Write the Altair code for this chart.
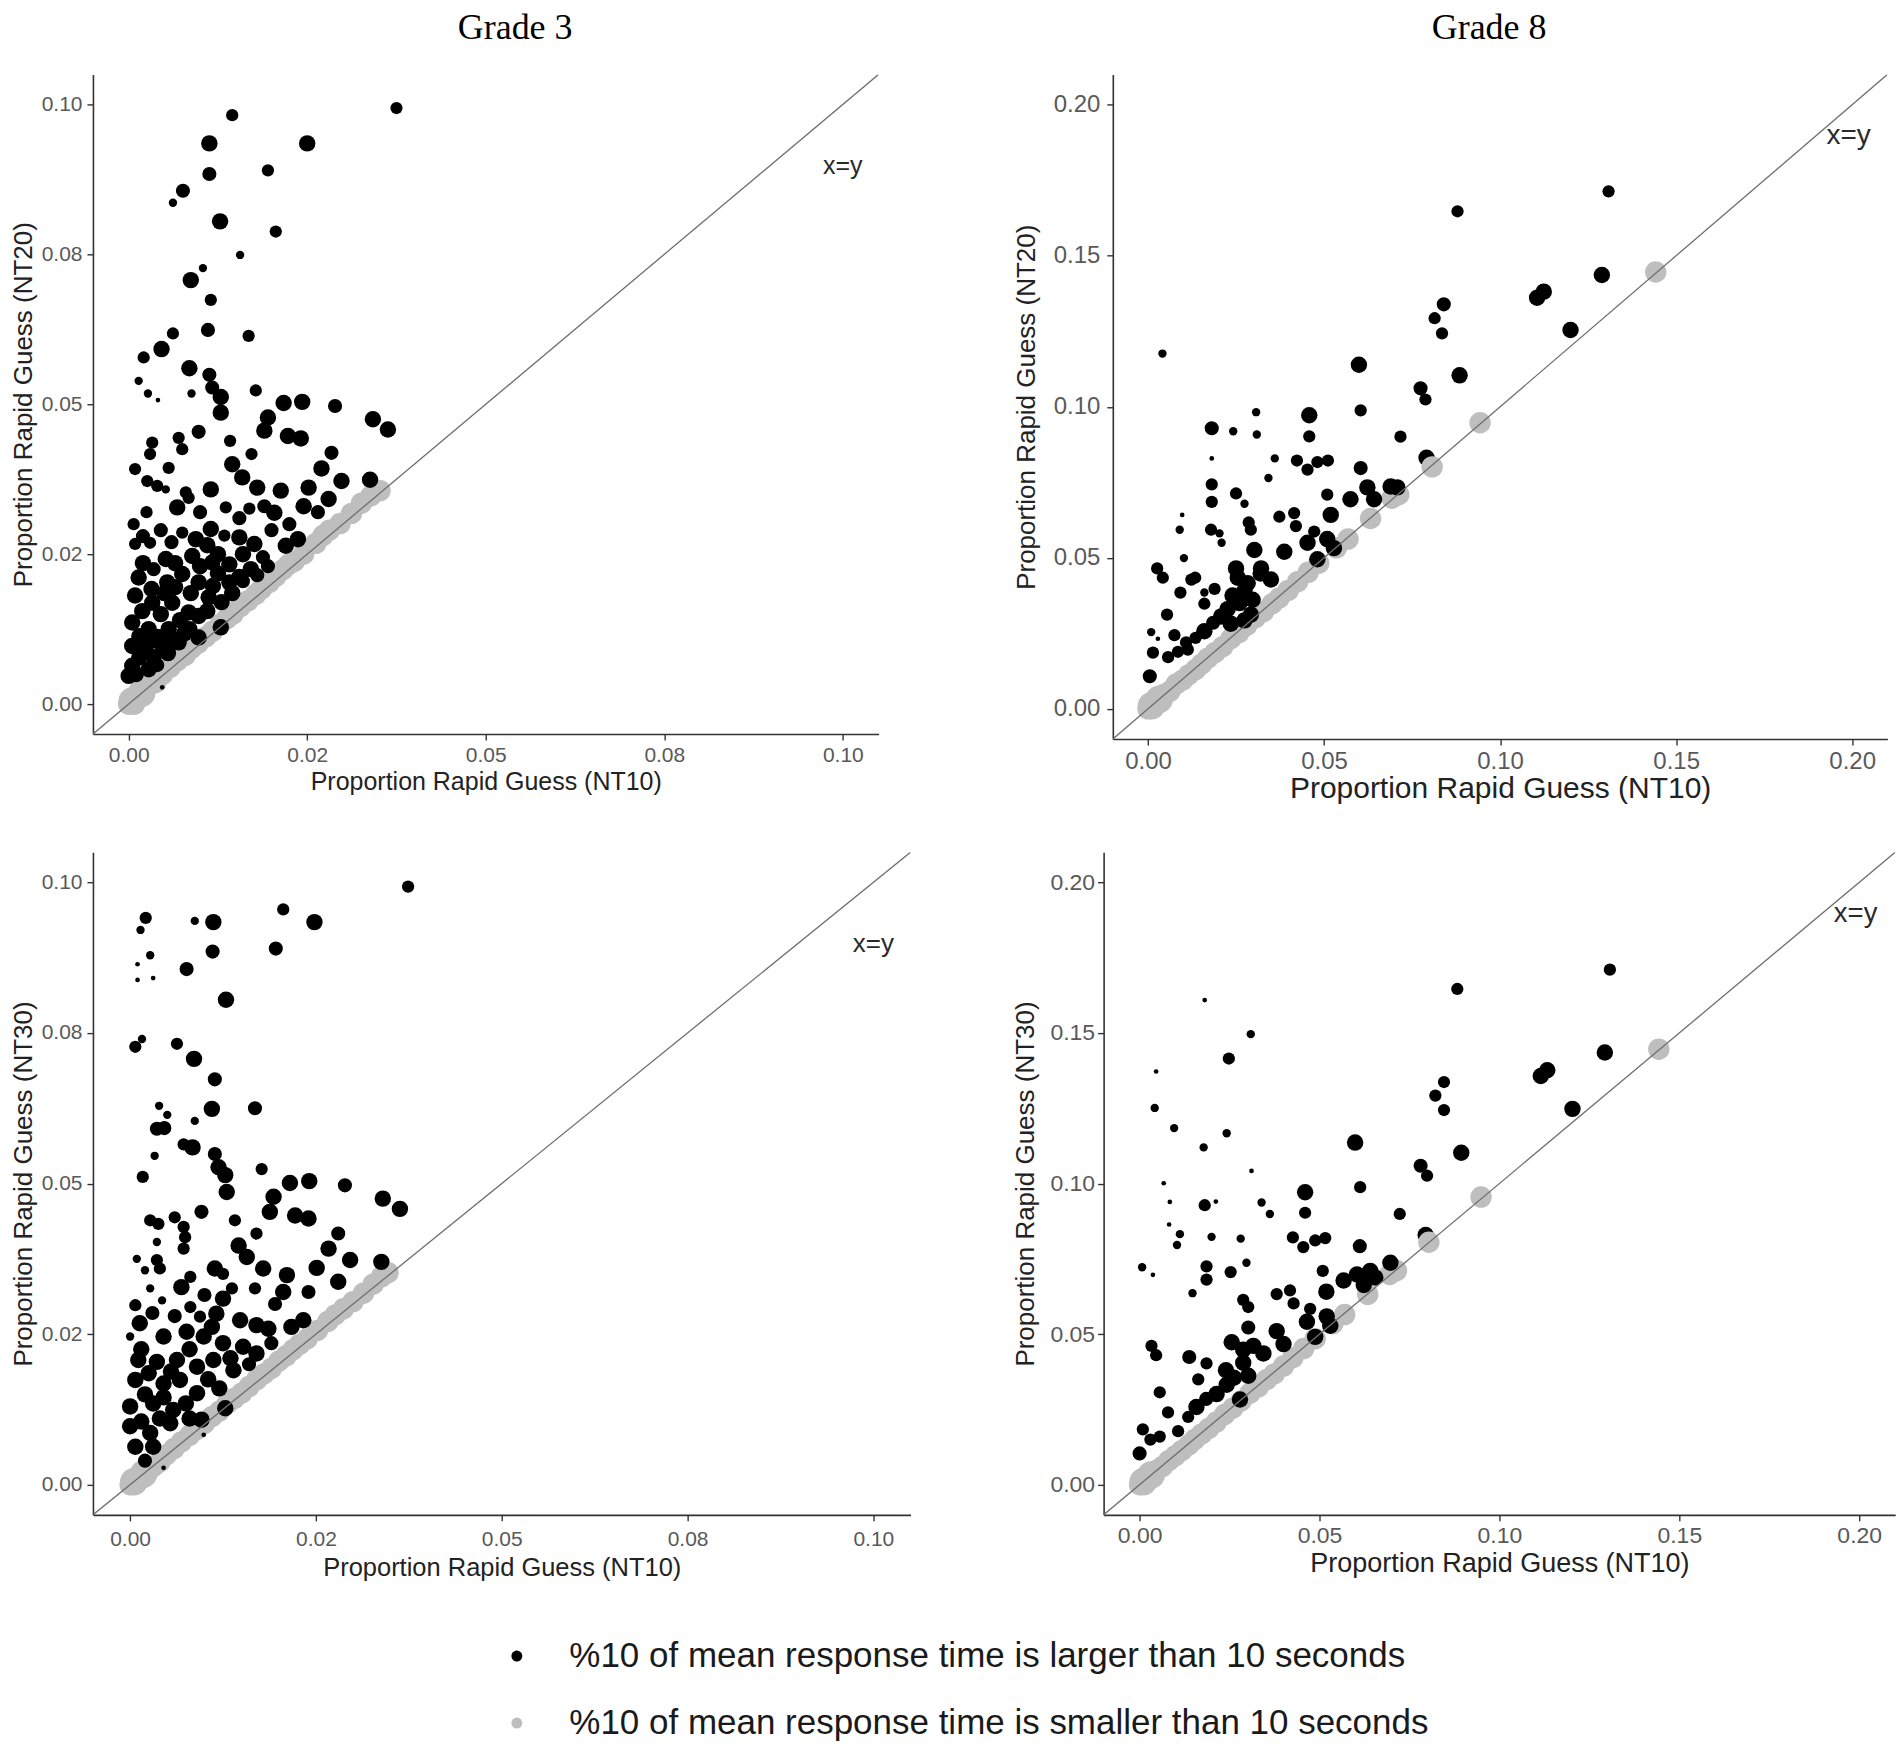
import altair as alt
import pandas as pd

# ---------------- labels / ticks ----------------
LAB_BLACK = "%10 of mean response time is larger than 10 seconds"
LAB_GRAY = "%10 of mean response time is smaller than 10 seconds"
group_labels = [LAB_BLACK, LAB_GRAY]
group_colors = ["#000000", "#bebebe"]

panel_titles = ["Grade 3", "Grade 8"]
x_title = "Proportion Rapid Guess (NT10)"
y_titles = ["Proportion Rapid Guess (NT20)", "Proportion Rapid Guess (NT30)"]

g3_limits = [0.0, 0.10]
g8_limits = [0.0, 0.20]
g3_ticks = [0.0, 0.025, 0.05, 0.075, 0.10]
g3_tick_labels = ["0.00", "0.02", "0.05", "0.08", "0.10"]
g8_ticks = [0.0, 0.05, 0.10, 0.15, 0.20]
g8_tick_labels = ["0.00", "0.05", "0.10", "0.15", "0.20"]

xy_label = "x=y"
g3_xy_pos = [0.100, 0.0898]
g8_xy_pos = [0.199, 0.1895]

# ---------------- data: (NT10, NTxx, size class) ----------------
# size class: 1 tiny ... 5 large (black points); gray points class 6, big gray class 7
g3_nt20_black = [
    (0.0375, 0.0994, 3), (0.0145, 0.0982, 3), (0.0113, 0.0935, 5), (0.0250, 0.0935, 5),
    (0.0113, 0.0884, 4), (0.0195, 0.0890, 3), (0.0076, 0.0856, 4), (0.0062, 0.0836, 2),
    (0.0128, 0.0805, 5), (0.0206, 0.0788, 3), (0.0156, 0.0749, 2), (0.0104, 0.0727, 2),
    (0.0087, 0.0707, 5), (0.0115, 0.0674, 3), (0.0111, 0.0624, 4), (0.0168, 0.0614, 3),
    (0.0062, 0.0618, 3), (0.0046, 0.0592, 5), (0.0021, 0.0578, 3), (0.0085, 0.0560, 5),
    (0.0113, 0.0549, 4), (0.0014, 0.0539, 2), (0.0027, 0.0518, 2), (0.0041, 0.0507, 1),
    (0.0088, 0.0518, 2), (0.0117, 0.0528, 4), (0.0129, 0.0512, 5), (0.0178, 0.0523, 3),
    (0.0217, 0.0502, 5), (0.0243, 0.0504, 5), (0.0289, 0.0497, 4), (0.0129, 0.0486, 5),
    (0.0195, 0.0478, 5), (0.0342, 0.0475, 5), (0.0363, 0.0458, 5),
    (0.0190, 0.0456, 5), (0.0223, 0.0447, 5), (0.0241, 0.0443, 5), (0.0284, 0.0419, 4),
    (0.0270, 0.0393, 5), (0.0298, 0.0372, 5), (0.0338, 0.0374, 5), (0.0280, 0.0342, 5),
    (0.0252, 0.0361, 5), (0.0098, 0.0454, 4), (0.0142, 0.0439, 3), (0.0172, 0.0417, 3),
    (0.0145, 0.0400, 5), (0.0159, 0.0378, 5), (0.0180, 0.0361, 5), (0.0033, 0.0436, 3),
    (0.0030, 0.0417, 3), (0.0070, 0.0444, 3), (0.0075, 0.0425, 3), (0.0056, 0.0394, 3),
    (0.0009, 0.0392, 3), (0.0026, 0.0372, 3), (0.0040, 0.0364, 3), (0.0052, 0.0358, 2),
    (0.0080, 0.0353, 3), (0.0068, 0.0328, 5), (0.0084, 0.0344, 3), (0.0115, 0.0358, 5),
    (0.0136, 0.0328, 3), (0.0169, 0.0326, 3), (0.0213, 0.0356, 5), (0.0204, 0.0319, 5),
    (0.0007, 0.0300, 3), (0.0009, 0.0267, 3), (0.0030, 0.0269, 3), (0.0075, 0.0286, 3),
    (0.0094, 0.0275, 5), (0.0115, 0.0292, 5), (0.0134, 0.0281, 3), (0.0155, 0.0278, 5),
    (0.0176, 0.0267, 5), (0.0220, 0.0264, 5), (0.0237, 0.0275, 5), (0.0052, 0.0242, 5),
    (0.0089, 0.0247, 5), (0.0117, 0.0236, 5), (0.0141, 0.0233, 5), (0.0171, 0.0225, 5),
    (0.0014, 0.0211, 5), (0.0054, 0.0203, 5), (0.0075, 0.0217, 5), (0.0098, 0.0203, 5),
    (0.0141, 0.0203, 5), (0.0009, 0.0181, 5), (0.0033, 0.0169, 5), (0.0061, 0.0169, 5),
    (0.0084, 0.0153, 5), (0.0098, 0.0147, 5), (0.0005, 0.0136, 5), (0.0028, 0.0125, 5),
    (0.0056, 0.0125, 5), (0.0005, 0.0097, 5), (0.0023, 0.0092, 5), (0.0047, 0.0097, 5),
    (0.0070, 0.0103, 5), (0.0005, 0.0064, 5), (0.0028, 0.0058, 5), (0.0000, 0.0047, 5),
    (0.0032, 0.0192, 5), (0.0019, 0.0155, 5), (0.0045, 0.0150, 5), (0.0072, 0.0140, 5),
    (0.0040, 0.0112, 5), (0.0015, 0.0113, 5), (0.0035, 0.0078, 5), (0.0015, 0.0078, 5),
    (0.0055, 0.0085, 5), (0.0078, 0.0118, 5), (0.0087, 0.0185, 5), (0.0112, 0.0178, 5),
    (0.0118, 0.0197, 5), (0.0125, 0.0218, 5), (0.0155, 0.0212, 5), (0.0160, 0.0205, 4),
    (0.0188, 0.0245, 4), (0.0125, 0.0250, 5), (0.0110, 0.0265, 5), (0.0035, 0.0225, 4),
    (0.0065, 0.0235, 5), (0.0020, 0.0280, 4), (0.0045, 0.0290, 4), (0.0060, 0.0270, 4),
    (0.0025, 0.0320, 3), (0.0100, 0.0320, 4), (0.0050, 0.0185, 5), (0.0020, 0.0235, 5),
    (0.0100, 0.0230, 5), (0.0130, 0.0170, 5), (0.0145, 0.0185, 5), (0.0110, 0.0155, 5),
    (0.0065, 0.0195, 5), (0.0030, 0.0105, 5), (0.0060, 0.0110, 5), (0.0085, 0.0125, 5),
    (0.0010, 0.0050, 5), (0.0040, 0.0065, 4), (0.0180, 0.0215, 4), (0.0195, 0.0230, 4),
    (0.0160, 0.0250, 5), (0.0200, 0.0290, 4), (0.0225, 0.0300, 4), (0.0245, 0.0330, 5),
    (0.0190, 0.0330, 4), (0.0155, 0.0310, 4), (0.0265, 0.0320, 4),
    (0.0129, 0.0128, 5), (0.0098, 0.0111, 5), (0.0047, 0.0028, 1),
]
g3_nt20_gray_big = [(0.0005, 0.0005), (0.0018, 0.0018)]
g3_nt20_gray = [
    (0.0000, 0.0000), (0.0008, 0.0000), (0.0015, 0.0012), (0.0022, 0.0018), (0.0030, 0.0032),
    (0.0038, 0.0036), (0.0047, 0.0049), (0.0058, 0.0061), (0.0068, 0.0072), (0.0079, 0.0081),
    (0.0088, 0.0093), (0.0097, 0.0101), (0.0108, 0.0112), (0.0117, 0.0121), (0.0128, 0.0133),
    (0.0137, 0.0142), (0.0146, 0.0150), (0.0156, 0.0162), (0.0167, 0.0172), (0.0178, 0.0183),
    (0.0186, 0.0192), (0.0197, 0.0203), (0.0206, 0.0213), (0.0216, 0.0224), (0.0224, 0.0233),
    (0.0232, 0.0238), (0.0245, 0.0250), (0.0262, 0.0268), (0.0272, 0.0281), (0.0281, 0.0290),
    (0.0296, 0.0301), (0.0312, 0.0318), (0.0326, 0.0335), (0.0339, 0.0347), (0.0352, 0.0356),
]
g3_nt20_gray_top = []

g8_nt20_black = [
    (0.0879, 0.1647, 3), (0.0840, 0.1339, 4), (0.0814, 0.1293, 3), (0.0835, 0.1243, 3),
    (0.0041, 0.1176, 2), (0.0599, 0.1139, 5), (0.0885, 0.1104, 5), (0.0774, 0.1061, 4),
    (0.0788, 0.1024, 3), (0.0307, 0.0982, 2), (0.0458, 0.0972, 5), (0.0604, 0.0988, 3),
    (0.0181, 0.0929, 4), (0.0242, 0.0919, 2), (0.0309, 0.0908, 2), (0.0458, 0.0902, 3),
    (0.0717, 0.0901, 3), (0.0181, 0.0829, 1), (0.0360, 0.0829, 2), (0.0423, 0.0822, 3),
    (0.0453, 0.0792, 3), (0.0481, 0.0817, 3), (0.0511, 0.0822, 3), (0.0604, 0.0797, 4),
    (0.0791, 0.0831, 5), (0.0342, 0.0764, 2), (0.0181, 0.0743, 3), (0.0181, 0.0685, 3),
    (0.0250, 0.0713, 3), (0.0274, 0.0679, 2), (0.0509, 0.0709, 3), (0.0575, 0.0694, 5),
    (0.0623, 0.0733, 5), (0.0642, 0.0694, 5), (0.0689, 0.0736, 5), (0.0708, 0.0733, 5),
    (0.0097, 0.0642, 1), (0.0090, 0.0593, 2), (0.0179, 0.0593, 3), (0.0203, 0.0581, 2),
    (0.0209, 0.0550, 2), (0.0286, 0.0617, 3), (0.0292, 0.0593, 3), (0.0373, 0.0636, 3),
    (0.0415, 0.0648, 3), (0.0420, 0.0605, 3), (0.0472, 0.0587, 3), (0.0519, 0.0642, 5),
    (0.0453, 0.0550, 5), (0.0509, 0.0562, 5), (0.0528, 0.0532, 5), (0.0481, 0.0495, 5),
    (0.0302, 0.0526, 5), (0.0387, 0.0520, 5), (0.0102, 0.0499, 2), (0.0026, 0.0465, 3),
    (0.0042, 0.0434, 3), (0.0123, 0.0428, 3), (0.0134, 0.0434, 3), (0.0189, 0.0397, 3),
    (0.0092, 0.0385, 3), (0.0160, 0.0385, 2), (0.0250, 0.0465, 5), (0.0255, 0.0434, 5),
    (0.0283, 0.0416, 5), (0.0321, 0.0465, 5), (0.0349, 0.0428, 5), (0.0274, 0.0391, 5),
    (0.0297, 0.0361, 5), (0.0160, 0.0348, 3), (0.0054, 0.0312, 3), (0.0226, 0.0330, 5),
    (0.0208, 0.0306, 5), (0.0274, 0.0293, 5), (0.0292, 0.0312, 5), (0.0160, 0.0257, 5),
    (0.0009, 0.0254, 2), (0.0075, 0.0244, 3), (0.0108, 0.0220, 3), (0.0028, 0.0232, 1),
    (0.0014, 0.0186, 3), (0.0057, 0.0171, 3), (0.0085, 0.0189, 3), (0.0113, 0.0196, 3),
    (0.0005, 0.0108, 4), (0.0240, 0.0375, 5), (0.0260, 0.0350, 5), (0.0235, 0.0282, 5),
    (0.0185, 0.0285, 4), (0.0135, 0.0235, 3), (0.0320, 0.0448, 5),
    (0.1308, 0.1713, 3), (0.1289, 0.1436, 5), (0.1105, 0.1361, 5), (0.1124, 0.1381, 5),
    (0.1200, 0.1254, 5),
]
g8_nt20_gray_big = [(0.0010, 0.0010), (0.0032, 0.0032)]
g8_nt20_gray = [
    (0.0000, 0.0000), (0.0015, 0.0005), (0.0010, 0.0020), (0.0030, 0.0025), (0.0045, 0.0048),
    (0.0062, 0.0058), (0.0080, 0.0082), (0.0098, 0.0095), (0.0115, 0.0112), (0.0135, 0.0130),
    (0.0152, 0.0148), (0.0170, 0.0168), (0.0190, 0.0186), (0.0212, 0.0206), (0.0235, 0.0232),
    (0.0258, 0.0252), (0.0280, 0.0276), (0.0305, 0.0302), (0.0328, 0.0322), (0.0352, 0.0347),
    (0.0372, 0.0366), (0.0398, 0.0392), (0.0425, 0.0421), (0.0455, 0.0452), (0.0485, 0.0482),
    (0.0535, 0.0533), (0.0568, 0.0562), (0.0632, 0.0630), (0.0693, 0.0697), (0.0712, 0.0709),
    (0.0943, 0.0947), (0.1442, 0.1446),
]
g8_nt20_gray_top = [(0.0807, 0.0801)]

g3_nt30_black = [
    (0.0374, 0.0993, 3), (0.0206, 0.0955, 3), (0.0248, 0.0934, 5), (0.0112, 0.0934, 5),
    (0.0087, 0.0936, 2), (0.0021, 0.0941, 3), (0.0014, 0.0921, 2), (0.0196, 0.0890, 4),
    (0.0111, 0.0885, 4), (0.0027, 0.0879, 2), (0.0010, 0.0864, 1), (0.0010, 0.0838, 1),
    (0.0031, 0.0841, 1), (0.0076, 0.0856, 4), (0.0129, 0.0805, 5), (0.0016, 0.0740, 2),
    (0.0007, 0.0727, 3), (0.0063, 0.0732, 3), (0.0086, 0.0707, 5), (0.0114, 0.0673, 4),
    (0.0110, 0.0624, 5), (0.0168, 0.0625, 4), (0.0039, 0.0629, 2), (0.0050, 0.0614, 2),
    (0.0087, 0.0604, 2), (0.0036, 0.0591, 4), (0.0046, 0.0592, 4), (0.0072, 0.0565, 3),
    (0.0084, 0.0560, 5), (0.0033, 0.0546, 2), (0.0114, 0.0549, 4), (0.0119, 0.0527, 5),
    (0.0128, 0.0514, 5), (0.0177, 0.0524, 3), (0.0017, 0.0511, 3), (0.0215, 0.0501, 5),
    (0.0241, 0.0504, 5), (0.0289, 0.0497, 4), (0.0130, 0.0486, 5), (0.0193, 0.0478, 5),
    (0.0340, 0.0475, 5), (0.0363, 0.0458, 5), (0.0188, 0.0453, 5), (0.0222, 0.0447, 5),
    (0.0240, 0.0442, 5), (0.0280, 0.0417, 4), (0.0267, 0.0392, 5), (0.0296, 0.0373, 5),
    (0.0338, 0.0370, 5), (0.0280, 0.0337, 5), (0.0251, 0.0360, 5), (0.0096, 0.0453, 4),
    (0.0141, 0.0439, 3), (0.0170, 0.0417, 3), (0.0146, 0.0397, 5), (0.0157, 0.0378, 5),
    (0.0179, 0.0359, 5), (0.0027, 0.0439, 3), (0.0038, 0.0433, 3), (0.0060, 0.0444, 3),
    (0.0072, 0.0428, 3), (0.0074, 0.0411, 3), (0.0072, 0.0392, 3), (0.0036, 0.0403, 2),
    (0.0009, 0.0375, 2), (0.0036, 0.0373, 3), (0.0020, 0.0356, 2), (0.0040, 0.0359, 3),
    (0.0027, 0.0326, 2), (0.0043, 0.0306, 2), (0.0069, 0.0328, 5), (0.0081, 0.0345, 3),
    (0.0114, 0.0359, 5), (0.0125, 0.0350, 3), (0.0137, 0.0326, 3), (0.0125, 0.0309, 5),
    (0.0168, 0.0326, 3), (0.0211, 0.0348, 5), (0.0206, 0.0320, 5), (0.0007, 0.0298, 3),
    (0.0013, 0.0268, 5), (0.0000, 0.0246, 2), (0.0081, 0.0295, 3), (0.0094, 0.0279, 3),
    (0.0116, 0.0284, 5), (0.0148, 0.0273, 5), (0.0170, 0.0265, 5), (0.0186, 0.0259, 5),
    (0.0217, 0.0262, 5), (0.0233, 0.0273, 5), (0.0045, 0.0246, 5), (0.0076, 0.0254, 5),
    (0.0099, 0.0246, 5), (0.0125, 0.0235, 5), (0.0152, 0.0229, 5), (0.0170, 0.0218, 5),
    (0.0011, 0.0207, 5), (0.0036, 0.0204, 5), (0.0063, 0.0207, 5), (0.0090, 0.0196, 5),
    (0.0112, 0.0207, 5), (0.0139, 0.0190, 5), (0.0007, 0.0174, 5), (0.0045, 0.0168, 5),
    (0.0067, 0.0174, 5), (0.0090, 0.0152, 5), (0.0000, 0.0130, 5), (0.0031, 0.0135, 5),
    (0.0058, 0.0124, 5), (0.0000, 0.0097, 5), (0.0027, 0.0086, 5), (0.0054, 0.0102, 5),
    (0.0007, 0.0063, 5), (0.0031, 0.0063, 5), (0.0020, 0.0150, 5), (0.0045, 0.0145, 5),
    (0.0075, 0.0135, 5), (0.0015, 0.0225, 5), (0.0105, 0.0175, 5), (0.0080, 0.0225, 5),
    (0.0015, 0.0105, 5), (0.0040, 0.0110, 5), (0.0020, 0.0040, 4), (0.0025, 0.0185, 5),
    (0.0055, 0.0188, 5), (0.0120, 0.0160, 5), (0.0135, 0.0210, 5), (0.0160, 0.0200, 4),
    (0.0190, 0.0235, 4), (0.0110, 0.0262, 5), (0.0060, 0.0280, 4), (0.0030, 0.0285, 4),
    (0.0100, 0.0315, 4), (0.0195, 0.0300, 4), (0.0240, 0.0320, 4), (0.0080, 0.0110, 5),
    (0.0128, 0.0127, 5), (0.0096, 0.0108, 5), (0.0045, 0.0028, 1), (0.0099, 0.0083, 1),
]
g3_nt30_gray_big = [(0.0005, 0.0005), (0.0018, 0.0018)]
g3_nt30_gray = [
    (0.0000, 0.0000), (0.0008, 0.0002), (0.0015, 0.0010), (0.0023, 0.0020), (0.0031, 0.0030),
    (0.0040, 0.0038), (0.0049, 0.0050), (0.0059, 0.0060), (0.0069, 0.0071), (0.0080, 0.0082),
    (0.0090, 0.0092), (0.0100, 0.0102), (0.0110, 0.0113), (0.0120, 0.0122), (0.0130, 0.0134),
    (0.0140, 0.0143), (0.0150, 0.0152), (0.0160, 0.0163), (0.0170, 0.0174), (0.0180, 0.0184),
    (0.0190, 0.0193), (0.0200, 0.0205), (0.0210, 0.0214), (0.0219, 0.0224), (0.0228, 0.0233),
    (0.0238, 0.0242), (0.0252, 0.0256), (0.0266, 0.0271), (0.0276, 0.0282), (0.0287, 0.0292),
    (0.0300, 0.0304), (0.0314, 0.0318), (0.0327, 0.0333), (0.0338, 0.0345), (0.0347, 0.0352),
]
g3_nt30_gray_top = []

g8_nt30_black = [
    (0.0883, 0.1646, 3), (0.0181, 0.1609, 1), (0.0309, 0.1496, 2), (0.0248, 0.1415, 3),
    (0.0046, 0.1372, 1), (0.0042, 0.1251, 2), (0.0096, 0.1184, 2), (0.0242, 0.1167, 2),
    (0.0178, 0.1120, 2), (0.0846, 0.1337, 3), (0.0822, 0.1292, 3), (0.0846, 0.1244, 3),
    (0.0599, 0.1136, 5), (0.0894, 0.1102, 5), (0.0781, 0.1059, 4), (0.0799, 0.1026, 3),
    (0.0311, 0.1042, 1), (0.0067, 0.1001, 1), (0.0084, 0.0939, 1), (0.0181, 0.0928, 3),
    (0.0212, 0.0940, 1), (0.0339, 0.0937, 2), (0.0362, 0.0899, 2), (0.0460, 0.0971, 5),
    (0.0460, 0.0903, 3), (0.0613, 0.0988, 3), (0.0723, 0.0899, 3), (0.0082, 0.0864, 1),
    (0.0112, 0.0832, 2), (0.0104, 0.0796, 2), (0.0200, 0.0823, 2), (0.0281, 0.0817, 2),
    (0.0426, 0.0821, 3), (0.0455, 0.0789, 3), (0.0488, 0.0811, 3), (0.0516, 0.0819, 3),
    (0.0795, 0.0829, 5), (0.0612, 0.0792, 4), (0.0007, 0.0722, 2), (0.0037, 0.0697, 1),
    (0.0186, 0.0725, 3), (0.0186, 0.0681, 3), (0.0253, 0.0706, 3), (0.0297, 0.0737, 2),
    (0.0147, 0.0636, 2), (0.0509, 0.0710, 3), (0.0567, 0.0678, 5), (0.0604, 0.0698, 5),
    (0.0641, 0.0710, 5), (0.0697, 0.0737, 5), (0.0623, 0.0663, 5), (0.0655, 0.0688, 5),
    (0.0288, 0.0614, 3), (0.0302, 0.0590, 3), (0.0381, 0.0633, 3), (0.0418, 0.0645, 3),
    (0.0428, 0.0602, 3), (0.0474, 0.0584, 3), (0.0519, 0.0641, 5), (0.0465, 0.0541, 5),
    (0.0520, 0.0559, 5), (0.0530, 0.0528, 5), (0.0488, 0.0491, 5), (0.0302, 0.0522, 4),
    (0.0381, 0.0510, 5), (0.0400, 0.0467, 5), (0.0033, 0.0461, 3), (0.0046, 0.0430, 3),
    (0.0138, 0.0424, 4), (0.0186, 0.0403, 3), (0.0256, 0.0473, 5), (0.0288, 0.0448, 5),
    (0.0316, 0.0461, 5), (0.0344, 0.0436, 5), (0.0288, 0.0405, 5), (0.0302, 0.0362, 5),
    (0.0163, 0.0350, 3), (0.0056, 0.0307, 3), (0.0242, 0.0332, 5), (0.0214, 0.0301, 5),
    (0.0279, 0.0283, 5), (0.0158, 0.0258, 5), (0.0079, 0.0240, 3), (0.0009, 0.0184, 3),
    (0.0056, 0.0160, 3), (0.0107, 0.0178, 3), (0.0000, 0.0104, 4), (0.0240, 0.0380, 5),
    (0.0262, 0.0355, 5), (0.0185, 0.0285, 4), (0.0135, 0.0225, 3), (0.0030, 0.0150, 3),
    (0.1307, 0.1710, 3), (0.1293, 0.1435, 5), (0.1115, 0.1357, 5), (0.1133, 0.1376, 5),
    (0.1203, 0.1248, 5),
]
g8_nt30_gray_big = [(0.0010, 0.0010), (0.0032, 0.0032)]
g8_nt30_gray = [
    (0.0000, 0.0000), (0.0015, 0.0006), (0.0008, 0.0020), (0.0030, 0.0026), (0.0046, 0.0047),
    (0.0063, 0.0060), (0.0081, 0.0080), (0.0099, 0.0096), (0.0117, 0.0113), (0.0136, 0.0131),
    (0.0153, 0.0150), (0.0172, 0.0168), (0.0192, 0.0187), (0.0213, 0.0208), (0.0236, 0.0233),
    (0.0259, 0.0254), (0.0282, 0.0278), (0.0306, 0.0303), (0.0330, 0.0325), (0.0353, 0.0349),
    (0.0374, 0.0368), (0.0400, 0.0394), (0.0426, 0.0422), (0.0456, 0.0452), (0.0488, 0.0485),
    (0.0537, 0.0535), (0.0570, 0.0565), (0.0634, 0.0632), (0.0695, 0.0698), (0.0714, 0.0711),
    (0.0949, 0.0955), (0.1443, 0.1446),
]
g8_nt30_gray_top = [(0.0804, 0.0805)]

GRAY_CLASS = 6
GRAY_BIG_CLASS = 7
size_domain = [1, 2, 3, 4, 5, 6, 7]
size_range = [22, 70, 150, 200, 270, 460, 760]


def label_expr(ticks, labels):
    parts = []
    for i in range(len(ticks) - 1):
        mid = (ticks[i] + ticks[i + 1]) / 2
        parts.append(f"datum.value < {mid} ? '{labels[i]}'")
    return " : ".join(parts) + f" : '{labels[-1]}'"


legend = alt.Legend(
    orient="none", legendX=406.6, legendY=1565, title=None, direction="vertical",
    labelFont="Liberation Sans", labelFontSize=35, labelColor="#1a1a1a", labelLimit=0,
    symbolType="circle", symbolSize=120, symbolStrokeWidth=0, symbolOpacity=1,
    rowPadding=31, labelOffset=35, padding=0,
)


def panel(black, gray_big, gray, gray_top, limits, ticks, tick_labels, y_title, xy_pos, p, title=None):
    rows = []
    for x, y in gray_big:
        rows.append({"x": x, "y": y, "w": GRAY_BIG_CLASS, "grp": LAB_GRAY})
    for x, y in gray:
        rows.append({"x": x, "y": y, "w": GRAY_CLASS, "grp": LAB_GRAY})
    for x, y, w in black:
        rows.append({"x": x, "y": y, "w": w, "grp": LAB_BLACK})
    for x, y in gray_top:
        rows.append({"x": x, "y": y, "w": GRAY_CLASS, "grp": LAB_GRAY})
    df = pd.DataFrame(rows)

    span = limits[1] - limits[0]
    dom = [limits[0] - 0.05 * span, limits[1] + 0.05 * span]
    sx = alt.Scale(domain=dom, nice=False, zero=False)
    sy = alt.Scale(domain=dom, nice=False, zero=False)
    lexpr = label_expr(ticks, tick_labels)

    common = dict(
        values=ticks, labelExpr=lexpr, grid=False,
        domainColor="#333333", domainWidth=1.6, tickColor="#333333", tickWidth=1.4, tickSize=6,
        labelFont="Liberation Sans", labelColor="#595959", labelFlush=False, labelOverlap=False,
        titleFont="Liberation Sans", titleFontWeight="normal", titleColor="#222222",
    )
    ax_x = alt.Axis(title=x_title, labelFontSize=p["xl"], labelPadding=p["xlp"],
                    titleFontSize=p["xt"], titlePadding=p["xtp"], **common)
    ax_y = alt.Axis(title=y_title, labelFontSize=p["yl"], labelPadding=p["ylp"],
                    titleFontSize=p["yt"], titlePadding=p["ytp"], **common)

    pts = alt.Chart(df).mark_circle(opacity=1, strokeWidth=0).encode(
        x=alt.X("x:Q", scale=sx, axis=ax_x),
        y=alt.Y("y:Q", scale=sy, axis=ax_y),
        size=alt.Size("w:Q", scale=alt.Scale(domain=size_domain, range=size_range), legend=None),
        color=alt.Color("grp:N", scale=alt.Scale(domain=group_labels, range=group_colors), legend=legend),
    )
    line_df = pd.DataFrame({"x": dom, "y": dom})
    line = alt.Chart(line_df).mark_line(color="#6f6f6f", strokeWidth=1.3, clip=True).encode(
        x=alt.X("x:Q", scale=sx), y=alt.Y("y:Q", scale=sy)
    )
    txt_df = pd.DataFrame({"x": [xy_pos[0]], "y": [xy_pos[1]], "t": [xy_label]})
    txt = alt.Chart(txt_df).mark_text(
        font="Liberation Sans", fontSize=p["xy"], color="#2a2a2a", align="center", baseline="middle"
    ).encode(x=alt.X("x:Q", scale=sx), y=alt.Y("y:Q", scale=sy), text="t:N")

    ch = alt.layer(pts, line, txt).properties(width=p["w"], height=p["h"])
    if title is not None:
        ch = ch.properties(title=alt.TitleParams(
            title, font="Liberation Serif", fontSize=36, fontWeight="normal", color="#000000",
            anchor="middle", frame="group", offset=p["toff"], dx=p["tdx"]))
    return ch


p_tl = dict(w=786, h=660, xl=21, yl=21, xt=25, yt=26, xlp=4.1, xtp=4.5, ylp=5, ytp=4.6, xy=25, toff=27, tdx=29.4)
p_tr = dict(w=775, h=665, xl=24, yl=24, xt=30, yt=26, xlp=4.2, xtp=0.5, ylp=7, ytp=13.4, xy=28, toff=27, tdx=-11)
p_bl = dict(w=818, h=663, xl=21, yl=21, xt=25.5, yt=26, xlp=7.8, xtp=5.8, ylp=5, ytp=4.6, xy=26)
p_br = dict(w=792, h=663, xl=23, yl=23, xt=27, yt=26, xlp=3.7, xtp=3.2, ylp=3, ytp=11.4, xy=27.5)

tl = panel(g3_nt20_black, g3_nt20_gray_big, g3_nt20_gray, g3_nt20_gray_top, g3_limits, g3_ticks,
           g3_tick_labels, y_titles[0], g3_xy_pos, p_tl, title=panel_titles[0])
tr = panel(g8_nt20_black, g8_nt20_gray_big, g8_nt20_gray, g8_nt20_gray_top, g8_limits, g8_ticks,
           g8_tick_labels, y_titles[0], g8_xy_pos, p_tr, title=panel_titles[1])
bl = panel(g3_nt30_black, g3_nt30_gray_big, g3_nt30_gray, g3_nt30_gray_top, g3_limits, g3_ticks,
           g3_tick_labels, y_titles[1], g3_xy_pos, p_bl)
br = panel(g8_nt30_black, g8_nt30_gray_big, g8_nt30_gray, g8_nt30_gray_top, g8_limits, g8_ticks,
           g8_tick_labels, y_titles[1], g8_xy_pos, p_br)

chart = alt.vconcat(
    alt.hconcat(tl, tr, spacing=134.4),
    alt.hconcat(bl, br, spacing=101.2),
    spacing=48.2,
).properties(
    padding={"left": 2, "top": 2, "right": 0, "bottom": 0},
    background="white",
).configure_view(stroke=None)

chart.save("out.html", embed_options={"renderer": "svg", "actions": False})
